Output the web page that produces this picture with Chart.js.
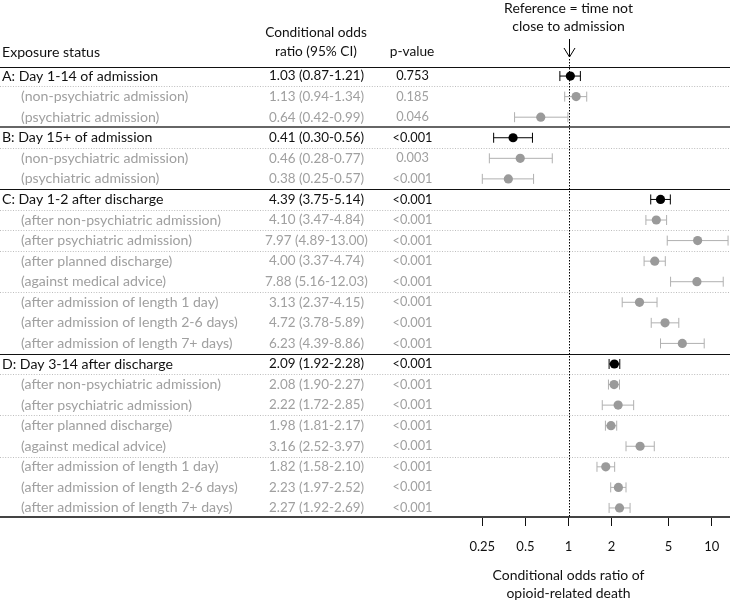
<!DOCTYPE html>
<html>
<head>
<meta charset="utf-8">
<script src="https://cdn.jsdelivr.net/npm/chart.js@4.4.1/dist/chart.umd.min.js"></script>
<style>
html,body{margin:0;padding:0;background:#fff;}
#wrap{width:735px;height:602px;}
</style>
</head>
<body>
<div id="wrap"><canvas id="c" width="735" height="602"></canvas></div>
<script>
// ---------------- DATA ----------------
const exposureLabels = [
  "A: Day 1-14 of admission",
  "(non-psychiatric admission)",
  "(psychiatric admission)",
  "B: Day 15+ of admission",
  "(non-psychiatric admission)",
  "(psychiatric admission)",
  "C: Day 1-2 after discharge",
  "(after non-psychiatric admission)",
  "(after psychiatric admission)",
  "(after planned discharge)",
  "(against medical advice)",
  "(after admission of length 1 day)",
  "(after admission of length 2-6 days)",
  "(after admission of length 7+ days)",
  "D: Day 3-14 after discharge",
  "(after non-psychiatric admission)",
  "(after psychiatric admission)",
  "(after planned discharge)",
  "(against medical advice)",
  "(after admission of length 1 day)",
  "(after admission of length 2-6 days)",
  "(after admission of length 7+ days)"
];
const headerRows = [0, 3, 6, 14];
const oddsRatios = [1.03,1.13,0.64, 0.41,0.46,0.38, 4.39,4.10,7.97,4.00,7.88,3.13,4.72,6.23, 2.09,2.08,2.22,1.98,3.16,1.82,2.23,2.27];
const ciLower    = [0.87,0.94,0.42, 0.30,0.28,0.25, 3.75,3.47,4.89,3.37,5.16,2.37,3.78,4.39, 1.92,1.90,1.72,1.81,2.52,1.58,1.97,1.92];
const ciUpper    = [1.21,1.34,0.99, 0.56,0.77,0.57, 5.14,4.84,13.00,4.74,12.03,4.15,5.89,8.86, 2.28,2.27,2.85,2.17,3.97,2.10,2.52,2.69];
const pValues = ["0.753","0.185","0.046","<0.001","0.003","<0.001",
  "<0.001","<0.001","<0.001","<0.001","<0.001","<0.001","<0.001","<0.001",
  "<0.001","<0.001","<0.001","<0.001","<0.001","<0.001","<0.001","<0.001"];
const xTickValues = [0.25, 0.5, 1, 2, 5, 10];
const xTickLabels = ["0.25", "0.5", "1", "2", "5", "10"];
const dottedAfterRows = [0, 3, 6, 7, 8, 10, 14, 16, 18];
const solidBeforeRows = [3, 6, 14];

// ---------------- STYLE ----------------
const FAMILY = "Lato, 'Open Sans', 'DejaVu Sans', sans-serif";
const BLACK = '#000000';
const GRAY_TXT = '#a0a0a0';
const GRAY_PT = '#9a9a9a';
const GRAY_BAR = '#b0b0b0';

const mctx = document.createElement('canvas').getContext('2d');
function fit(text, target) {
  mctx.font = `normal 20px ${FAMILY}`;
  return 20 * target / mctx.measureText(text).width;
}
const labelSize = fit('(after admission of length 2-6 days)', 217);
const numSize = fit('7.97 (4.89-13.00)', 103);
const pSize = fit('<0.001', 40);
const refSize = fit('Reference = time not', 129);
const titleSize = fit('Conditional odds ratio of', 152);

const isHeader = i => headerRows.includes(i);
const rowIdx = exposureLabels.map((_, i) => i);

const datasets = [];
datasets.push({
  label: 'OR',
  data: oddsRatios.map((v, i) => ({ x: v, y: i })),
  showLine: false,
  pointStyle: 'circle',
  pointRadius: 4.6,
  pointHoverRadius: 4.6,
  pointBackgroundColor: rowIdx.map(i => isHeader(i) ? BLACK : GRAY_PT),
  pointBorderColor: rowIdx.map(i => isHeader(i) ? BLACK : GRAY_PT),
  pointBorderWidth: 0,
  order: 0,
  clip: false
});
rowIdx.forEach(i => {
  const col = isHeader(i) ? BLACK : GRAY_BAR;
  datasets.push({
    label: 'CI ' + i,
    data: [{ x: ciLower[i], y: i }, { x: ciUpper[i], y: i }],
    showLine: true,
    borderColor: col,
    borderWidth: 1,
    pointStyle: 'line',
    pointRotation: 90,
    pointRadius: 5,
    pointHoverRadius: 5,
    pointBorderColor: col,
    pointBorderWidth: 1,
    fill: false,
    order: 1,
    clip: false
  });
});

function crisp(y) { return Math.round(y) + 0.5; }

const tablePlugin = {
  id: 'tablePlugin',
  beforeDatasetsDraw(chart) {
    const ctx = chart.ctx;
    const ys = chart.scales.y, xs = chart.scales.x;
    const area = chart.chartArea;
    const pix = i => ys.getPixelForValue(i);
    const between = i => (pix(i) + pix(i + 1)) / 2;
    ctx.save();
    ctx.strokeStyle = '#111'; ctx.lineWidth = 1;
    ctx.beginPath(); ctx.moveTo(0, crisp(area.top)); ctx.lineTo(730, crisp(area.top)); ctx.stroke();
    solidBeforeRows.forEach(r => {
      const y = between(r - 1);
      ctx.strokeStyle = r === 3 ? '#666' : '#111';
      ctx.lineWidth = r === 3 ? 2 : 1;
      const yy = r === 3 ? Math.round(y) : crisp(y);
      ctx.beginPath(); ctx.moveTo(0, yy); ctx.lineTo(730, yy); ctx.stroke();
    });
    ctx.strokeStyle = '#444'; ctx.lineWidth = 2;
    ctx.beginPath(); ctx.moveTo(0, Math.round(area.bottom)); ctx.lineTo(730, Math.round(area.bottom)); ctx.stroke();
    ctx.strokeStyle = '#bdbdbd'; ctx.lineWidth = 1; ctx.setLineDash([1, 1.6]);
    dottedAfterRows.forEach(r => {
      const y = crisp(between(r));
      ctx.beginPath(); ctx.moveTo(0, y); ctx.lineTo(730, y); ctx.stroke();
    });
    const x1 = Math.round(xs.getPixelForValue(1)) + 0.5;
    ctx.strokeStyle = '#000'; ctx.setLineDash([1.5, 1.5]);
    ctx.beginPath(); ctx.moveTo(x1, 59); ctx.lineTo(x1, area.bottom); ctx.stroke();
    ctx.setLineDash([]);
    ctx.beginPath(); ctx.moveTo(x1, 39); ctx.lineTo(x1, 57); ctx.stroke();
    ctx.beginPath(); ctx.moveTo(x1 - 5.5, 48); ctx.lineTo(x1, 57); ctx.lineTo(x1 + 5.5, 48); ctx.stroke();
    ctx.restore();
  },
  afterDraw(chart) {
    const ctx = chart.ctx;
    const ys = chart.scales.y, xs = chart.scales.x;
    const x1 = xs.getPixelForValue(1);
    ctx.save();
    ctx.textBaseline = 'middle';
    ctx.fillStyle = '#111';
    ctx.font = `normal ${labelSize}px ${FAMILY}`;
    ctx.textAlign = 'left';
    ctx.fillText('Exposure status', 2, 52);
    ctx.textAlign = 'center';
    ctx.font = `normal ${numSize * 1.02}px ${FAMILY}`;
    ctx.fillText('Conditional odds', 316, 33);
    ctx.fillText('ratio (95% CI)', 316, 52);
    ctx.fillText('p-value', 412, 52);
    ctx.font = `normal ${refSize}px ${FAMILY}`;
    ctx.fillText('Reference = time not', x1, 8);
    ctx.fillText('close to admission', x1, 26);
    exposureLabels.forEach((lab, i) => {
      const y = ys.getPixelForValue(i);
      const hdr = isHeader(i);
      ctx.fillStyle = hdr ? '#111' : GRAY_TXT;
      ctx.textAlign = 'left';
      ctx.font = `normal ${labelSize}px ${FAMILY}`;
      ctx.fillText(lab, hdr ? 2 : 21, y);
      ctx.textAlign = 'center';
      ctx.font = `normal ${numSize}px ${FAMILY}`;
      const orText = `${oddsRatios[i].toFixed(2)} (${ciLower[i].toFixed(2)}-${ciUpper[i].toFixed(2)})`;
      ctx.fillText(orText, 316.5, y);
      ctx.font = `normal ${pSize}px ${FAMILY}`;
      ctx.fillText(pValues[i], 412.5, y);
    });
    ctx.restore();
  }
};

new Chart(document.getElementById('c'), {
  type: 'scatter',
  data: { datasets },
  options: {
    responsive: false,
    animation: false,
    devicePixelRatio: 1,
    layout: { padding: { left: 408, right: 0, top: 67, bottom: 0 } },
    plugins: { legend: { display: false }, tooltip: { enabled: false }, title: { display: false } },
    events: [],
    scales: {
      x: {
        type: 'logarithmic',
        min: 0.0757,
        max: 13.2,
        bounds: 'data',
        afterBuildTicks: s => { s.ticks = xTickValues.map(v => ({ value: v })); },
        afterFit: s => { s.height = 85; },
        ticks: {
          callback: (v, idx) => xTickLabels[idx],
          color: '#111',
          font: { family: FAMILY, size: 13, lineHeight: '41px' },
          padding: 0,
          autoSkip: false,
          maxRotation: 0,
          minRotation: 0
        },
        grid: { display: true, drawOnChartArea: false, drawTicks: true, tickLength: 9, tickColor: '#111', tickWidth: 1 },
        border: { display: false },
        title: {
          display: true,
          text: ['Conditional odds ratio of', 'opioid-related death'],
          color: '#111',
          font: { family: FAMILY, size: titleSize, lineHeight: '18px' },
          padding: { top: 0, bottom: 0 }
        }
      },
      y: {
        type: 'linear',
        reverse: true,
        min: -0.44,
        max: 21.44,
        bounds: 'data',
        display: false
      }
    }
  },
  plugins: [tablePlugin]
});
</script>
</body>
</html>
